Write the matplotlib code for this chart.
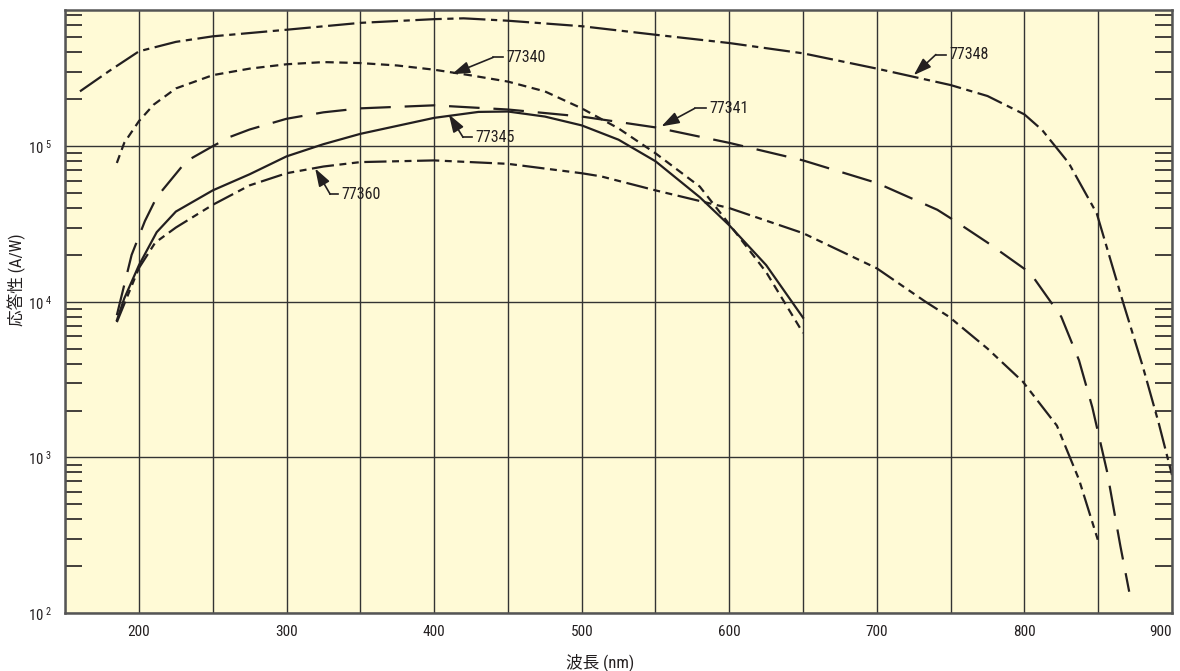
import numpy as np
import matplotlib
matplotlib.use('Agg')
import matplotlib.pyplot as plt
from matplotlib import font_manager
from matplotlib.ticker import FixedLocator, FuncFormatter, NullFormatter

# pick a narrow latin face if one is installed
installed = {f.name for f in font_manager.fontManager.ttflist}
narrow = [n for n in ['Liberation Sans Narrow', 'DejaVu Sans Condensed', 'Roboto Condensed',
                      'Liberation Sans'] if n in installed][:1]
plt.rcParams['font.family'] = narrow + ['Noto Sans CJK JP', 'DejaVu Sans']
plt.rcParams['lines.scale_dashes'] = False

# Data (wavelength nm, responsivity A/W)
x_77348 = [160, 180, 200, 225, 250, 300, 350, 400, 420, 450, 500, 550, 600, 650,
           700, 750, 775, 800, 812, 830, 849, 867, 880, 891, 900]
y_77348 = [2.25e5, 3.05e5, 4.07e5, 4.68e5, 5.08e5, 5.6e5, 6.2e5, 6.55e5, 6.63e5,
           6.4e5, 5.9e5, 5.2e5, 4.6e5, 3.95e5, 3.15e5, 2.47e5, 2.1e5, 1.6e5,
           1.27e5, 7.8e4, 3.7e4, 9.8e3, 3.9e3, 1.66e3, 7.7e2]

x_77340 = [185, 190, 200, 210, 225, 250, 275, 300, 325, 350, 375, 400, 425, 450,
           475, 500, 525, 550, 580, 600, 625, 650]
y_77340 = [7.8e4, 1.05e5, 1.45e5, 1.85e5, 2.35e5, 2.86e5, 3.15e5, 3.36e5, 3.47e5,
           3.42e5, 3.3e5, 3.1e5, 2.85e5, 2.6e5, 2.25e5, 1.75e5, 1.3e5, 9.0e4,
           5.5e4, 3.15e4, 1.55e4, 6.3e3]

x_77341 = [185, 195, 204, 212, 232, 250, 262, 275, 300, 325, 350, 400, 450, 500, 550, 600,
           650, 700, 741, 752, 775, 804, 825, 837, 846, 856, 865, 871]
y_77341 = [8.2e3, 2.0e4, 3.3e4, 4.7e4, 8.0e4, 1.0e5, 1.15e5, 1.28e5, 1.5e5, 1.65e5,
           1.75e5, 1.83e5, 1.72e5, 1.55e5, 1.32e5, 1.05e5, 8.1e4, 5.8e4, 3.9e4,
           3.35e4, 2.4e4, 1.53e4, 8.0e3, 4.2e3, 2.1e3, 8.1e2, 2.7e2, 1.37e2]

x_77345 = [185, 190, 200, 212, 225, 250, 275, 300, 325, 350, 400, 430, 450, 475, 500,
           525, 550, 580, 600, 625, 650]
y_77345 = [7.6e3, 1.05e4, 1.72e4, 2.8e4, 3.8e4, 5.2e4, 6.6e4, 8.6e4, 1.03e5, 1.2e5,
           1.52e5, 1.66e5, 1.67e5, 1.55e5, 1.36e5, 1.1e5, 8.0e4, 4.7e4, 3.1e4,
           1.72e4, 7.9e3]

x_77360 = [185, 200, 211, 225, 250, 275, 300, 325, 350, 400, 450, 500, 513, 550, 600,
           650, 700, 733, 749, 775, 799, 822, 837, 850]
y_77360 = [7.4e3, 1.65e4, 2.4e4, 3.0e4, 4.2e4, 5.6e4, 6.7e4, 7.4e4, 7.9e4, 8.1e4,
           7.7e4, 6.7e4, 6.4e4, 5.2e4, 4.0e4, 2.76e4, 1.64e4, 1.0e4, 8.0e3, 5.0e3,
           3.06e3, 1.6e3, 7.2e2, 2.9e2]

x_ticks = [200, 300, 400, 500, 600, 700, 800, 900]
y_ticks = [1e2, 1e3, 1e4, 1e5]

# label, arrow tip, elbow, end of horizontal leader
labels = ['77340', '77341', '77345', '77348', '77360']
tips = [(412, 2.9e5), (554, 1.34e5), (410, 1.6e5), (725, 2.86e5), (319.4, 7.19e4)]
elbows = [(440, 3.72e5), (576.6, 1.75e5), (419.6, 1.14e5), (740, 3.88e5), (329.5, 4.92e4)]
ends = [447, 584, 425.5, 746.7, 335]

ink = '#231f20'
fig = plt.figure(figsize=(11.8, 6.71), dpi=100)
ax = fig.add_axes([65.2 / 1180, 1 - 613 / 671, (1172 - 65.2) / 1180, 603 / 671])
ax.set_facecolor('#fffad6')

ax.plot(x_77348, y_77348, color=ink, lw=1.6, dashes=(19, 4, 4.5, 4))
ax.plot(x_77340, y_77340, color=ink, lw=1.6, dashes=(6, 4))
ax.plot(x_77341, y_77341, color=ink, lw=1.6, dashes=(22, 10))
ax.plot(x_77345, y_77345, color=ink, lw=1.6)
ax.plot(x_77360, y_77360, color=ink, lw=1.6, dashes=(16, 4, 5, 4, 5, 4))

ax.set_yscale('log')
ax.set_xlim(150, 900)
ax.set_ylim(1e2, 7.5e5)

ax.xaxis.set_major_locator(FixedLocator(x_ticks))
ax.xaxis.set_minor_locator(FixedLocator(np.arange(150, 901, 50)))
ax.xaxis.set_minor_formatter(NullFormatter())
ax.yaxis.set_major_locator(FixedLocator(y_ticks))
ax.yaxis.set_major_formatter(FuncFormatter(lambda v, p: r'$\mathregular{10^{\ %d}}$' % round(np.log10(v))))
minor_y = [m * 10.0 ** e for e in range(2, 6) for m in range(2, 10) if m * 10.0 ** e < 7.5e5]
ax.yaxis.set_minor_locator(FixedLocator(minor_y))
ax.yaxis.set_minor_formatter(NullFormatter())

ax.grid(True, which='both', axis='x', color='#333333', lw=1.0)
ax.grid(True, which='major', axis='y', color='#333333', lw=1.0)
ax.tick_params(axis='x', which='both', length=0, pad=9, labelsize=11, colors=ink)
ax.tick_params(axis='y', which='major', length=0, pad=9, labelsize=10.5, colors=ink)
ax.tick_params(axis='y', which='minor', direction='in', length=12, width=1.2,
               left=True, right=True, color=ink)
for s in ax.spines.values():
    s.set_color('#555555')
    s.set_linewidth(1.8)
# keep the last x label inside the figure
ax.get_xticklabels()[-1].set_horizontalalignment('right')
ax.get_xticklabels()[-1].set_x(906)

for lab, tip, elb, xe in zip(labels, tips, elbows, ends):
    ax.annotate('', xy=tip, xytext=elb,
                arrowprops=dict(arrowstyle='-|>,head_length=0.9,head_width=0.3',
                                color=ink, lw=1.2, mutation_scale=12,
                                shrinkA=0, shrinkB=0))
    ax.plot([elb[0], xe], [elb[1], elb[1]], color=ink, lw=1.2)
    ax.text(xe + 2.2, elb[1], lab, fontsize=11.5, color=ink, va='center', ha='left')

fig.text(600 / 1180, 1 - 662 / 671, '波長 (nm)', fontsize=12, color=ink, ha='center', va='center')
fig.text(17 / 1180, 1 - 280 / 671, '応答性 (A/W)', fontsize=12, color=ink, ha='center',
         va='center', rotation=90)

fig.savefig('out.png', dpi=100)
